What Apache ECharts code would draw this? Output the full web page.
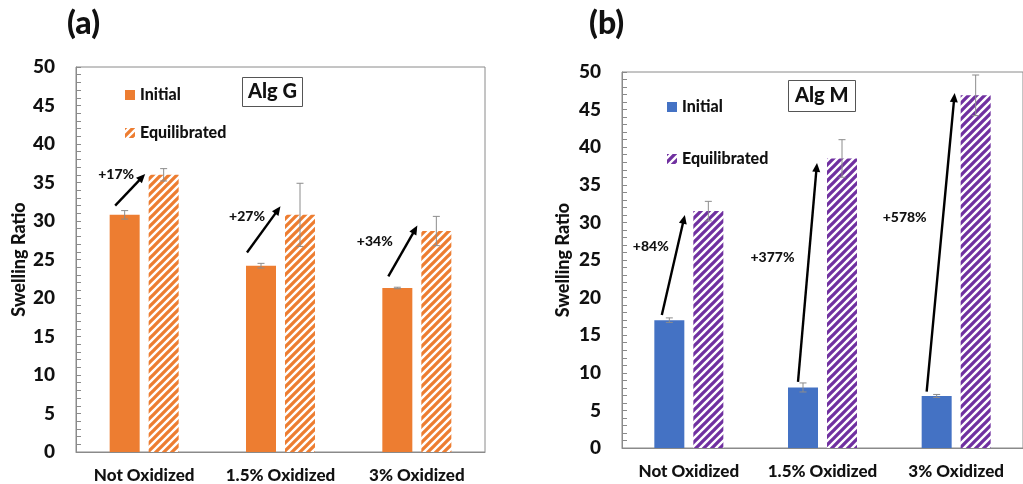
<!DOCTYPE html>
<html>
<head>
<meta charset="utf-8">
<script src="https://cdn.jsdelivr.net/npm/echarts@6/dist/echarts.min.js"></script>
<style>
  html, body { margin: 0; padding: 0; background: #fff; }
  #chart { width: 1023px; height: 484px; }
</style>
</head>
<body>
<div id="chart"></div>
<script>
// Swelling ratio of two alginates, initial vs. equilibrated
const categories = ['Not Oxidized', '1.5% Oxidized', '3% Oxidized'];

const algGInitial = [30.8, 24.2, 21.3];
const algGInitialErr = [0.55, 0.3, 0.1];
const algGEquil = [36.0, 30.8, 28.7];
const algGEquilErr = [0.8, 4.1, 1.9];
const algGChange = ['+17%', '+27%', '+34%'];

const algMInitial = [17.0, 8.05, 6.92];
const algMInitialErr = [0.3, 0.6, 0.2];
const algMEquil = [31.5, 38.5, 46.9];
const algMEquilErr = [1.3, 2.5, 2.7];
const algMChange = ['+84%', '+377%', '+578%'];

const yTicks = [0, 5, 10, 15, 20, 25, 30, 35, 40, 45, 50];

// Arrow ends (value units) for the change annotations
const algGArrowFrom = [32.0, 25.9, 22.8];
const algGArrowTo = [36.1, 31.9, 29.4];
const algGTextAt = [36.0, 30.6, 27.3];
const algMArrowFrom = [17.7, 8.8, 7.5];
const algMArrowTo = [31.0, 37.9, 47.2];
const algMTextAt = [26.8, 25.4, 30.7];

// Pixel offsets from the category centre (layout only)
const layoutG = { fromDx: [-29, -33.5, -28.5], toDx: [1, 0, 0.5], textDx: [-28, -33.5, -42] };
const layoutM = { fromDx: [-27, -24.5, -29.5], toDx: [-4, -5.5, -1.5], textDx: [-38, -50, -51.5] };

const FONT = 'Lato, "Open Sans", sans-serif';
const W = 900;
const ORANGE = '#ED7D31';
const BLUE = '#4472C4';
const PURPLE = '#7030A0';
const AXIS = '#8a8a8a';
const BAR_W = 30;
const BAR_OFF = 19.5;

function stripes(color) {
  const c = document.createElement('canvas');
  c.width = 8; c.height = 8;
  const g = c.getContext('2d');
  g.fillStyle = '#fff';
  g.fillRect(0, 0, 8, 8);
  g.strokeStyle = color;
  g.lineWidth = 3.3;
  g.beginPath();
  g.moveTo(-2, 10); g.lineTo(10, -2);
  g.moveTo(-2, 2); g.lineTo(2, -2);
  g.moveTo(6, 10); g.lineTo(10, 6);
  g.stroke();
  return { image: c, repeat: 'repeat' };
}
const orangeHatch = stripes(ORANGE);
const purpleHatch = stripes(PURPLE);

function errorSeries(gi, vals, errs, dx) {
  return {
    type: 'custom', xAxisIndex: gi, yAxisIndex: gi, z: 5, silent: true,
    data: vals.map((v, i) => [i, v, errs[i]]),
    renderItem(params, api) {
      const i = api.value(0), v = api.value(1), e = api.value(2);
      const t = api.coord([i, v + e]);
      const b = api.coord([i, v - e]);
      const x = t[0] + dx;
      const st = { stroke: '#8c8c8c', lineWidth: 1 };
      return {
        type: 'group',
        children: [
          { type: 'line', shape: { x1: x, y1: t[1], x2: x, y2: b[1] }, style: st },
          { type: 'line', shape: { x1: x - 3.5, y1: t[1], x2: x + 3.5, y2: t[1] }, style: st },
          { type: 'line', shape: { x1: x - 3.5, y1: b[1], x2: x + 3.5, y2: b[1] }, style: st }
        ]
      };
    }
  };
}

function arrowSeries(gi, from, to, textAt, texts, lay) {
  return {
    type: 'custom', xAxisIndex: gi, yAxisIndex: gi, z: 6, silent: true,
    data: from.map((f, i) => [i, f, to[i], textAt[i]]),
    renderItem(params, api) {
      const i = api.value(0);
      const p0 = api.coord([i, api.value(1)]);
      const p1 = api.coord([i, api.value(2)]);
      const pt = api.coord([i, api.value(3)]);
      const x0 = p0[0] + lay.fromDx[i], y0 = p0[1];
      const x1 = p1[0] + lay.toDx[i], y1 = p1[1];
      const dx = x1 - x0, dy = y1 - y0;
      const len = Math.sqrt(dx * dx + dy * dy);
      const ux = dx / len, uy = dy / len;
      const hl = 9, hw = 4;
      const bx = x1 - ux * hl, by = y1 - uy * hl;
      return {
        type: 'group',
        children: [
          { type: 'line', shape: { x1: x0, y1: y0, x2: bx + ux, y2: by + uy },
            style: { stroke: '#000', lineWidth: 2.4 } },
          { type: 'polygon', shape: { points: [[x1, y1], [bx - uy * hw, by + ux * hw], [bx + uy * hw, by - ux * hw]] },
            style: { fill: '#000' } },
          { type: 'text', x: pt[0] + lay.textDx[i], y: pt[1],
            style: { text: texts[i], fill: '#111', font: W + ' 14px ' + FONT, align: 'center', verticalAlign: 'middle' } }
        ]
      };
    }
  };
}

function yAxis(gi, gap) {
  return {
    type: 'value', gridIndex: gi, min: 0, max: 50, interval: 5,
    name: 'Swelling Ratio', nameLocation: 'middle', nameGap: gap,
    nameTextStyle: { fontFamily: FONT, fontWeight: W, fontSize: 18, color: '#111' },
    axisLine: { show: true, lineStyle: { color: AXIS } },
    axisTick: { show: true, inside: true, length: 5, lineStyle: { color: AXIS } },
    minorTick: { show: true, splitNumber: 5, length: 5, lineStyle: { color: AXIS } },
    splitLine: { show: false },
    axisLabel: { margin: 21, fontFamily: FONT, fontWeight: W, fontSize: 19, color: '#111',
      formatter: v => (yTicks.includes(v) ? String(v) : '') }
  };
}

function xAxis(gi) {
  return {
    type: 'category', gridIndex: gi, data: categories,
    axisLine: { show: true, lineStyle: { color: AXIS } },
    axisTick: { show: false },
    axisLabel: { interval: 0, hideOverlap: false, margin: 15, fontFamily: FONT, fontWeight: W, fontSize: 17, color: '#111' }
  };
}

function bar(gi, name, vals, color) {
  return {
    type: 'bar', name, xAxisIndex: gi, yAxisIndex: gi, data: vals,
    barWidth: BAR_W, barGap: '30%', itemStyle: { color }, silent: true
  };
}

const chart = echarts.init(document.getElementById('chart'), null, { renderer: 'canvas' });

const legendText = { fontFamily: FONT, fontWeight: W, fontSize: 16, color: '#111', padding: [0, 0, 0, 0] };

chart.setOption({
  animation: false,
  backgroundColor: '#fff',
  grid: [
    { left: 76, top: 67, width: 409, height: 386, show: true, borderColor: AXIS, borderWidth: 1 },
    { left: 622, top: 72, width: 411, height: 376, show: true, borderColor: AXIS, borderWidth: 1 }
  ],
  title: [
    { text: '(a)', left: 67, top: 8, padding: 0, textStyle: { fontFamily: FONT, fontWeight: W, fontSize: 32, color: '#111' } },
    { text: '(b)', left: 589, top: 8, padding: 0, textStyle: { fontFamily: FONT, fontWeight: W, fontSize: 32, color: '#111' } },
    { text: 'Alg G', left: 242, top: 77, padding: [5, 6], borderWidth: 1, borderColor: '#555',
      textStyle: { fontFamily: FONT, fontWeight: W, fontSize: 20, color: '#111' } },
    { text: 'Alg M', left: 788, top: 80, padding: [6, 7], borderWidth: 1, borderColor: '#555',
      textStyle: { fontFamily: FONT, fontWeight: W, fontSize: 20, color: '#111' } }
  ],
  legend: [
    { orient: 'vertical', left: 120, top: 82, itemWidth: 10, itemHeight: 10, itemGap: 22, icon: 'rect',
      selectedMode: false, textStyle: legendText,
      data: [{ name: 'Initial', itemStyle: { color: ORANGE } }, { name: 'Equilibrated', itemStyle: { color: orangeHatch } }] },
    { orient: 'vertical', left: 662, top: 94, itemWidth: 10, itemHeight: 10, itemGap: 36, icon: 'rect',
      selectedMode: false, textStyle: legendText,
      data: [{ name: 'Initial', itemStyle: { color: BLUE } }, { name: 'Equilibrated', itemStyle: { color: purpleHatch } }] }
  ],
  xAxis: [xAxis(0), xAxis(1)],
  yAxis: [yAxis(0, 48), yAxis(1, 50)],
  series: [
    bar(0, 'Initial', algGInitial, ORANGE),
    bar(0, 'Equilibrated', algGEquil, orangeHatch),
    bar(1, 'Initial', algMInitial, BLUE),
    bar(1, 'Equilibrated', algMEquil, purpleHatch),
    errorSeries(0, algGInitial, algGInitialErr, -BAR_OFF),
    errorSeries(0, algGEquil, algGEquilErr, BAR_OFF),
    errorSeries(1, algMInitial, algMInitialErr, -BAR_OFF),
    errorSeries(1, algMEquil, algMEquilErr, BAR_OFF),
    arrowSeries(0, algGArrowFrom, algGArrowTo, algGTextAt, algGChange, layoutG),
    arrowSeries(1, algMArrowFrom, algMArrowTo, algMTextAt, algMChange, layoutM)
  ]
});
</script>
</body>
</html>
